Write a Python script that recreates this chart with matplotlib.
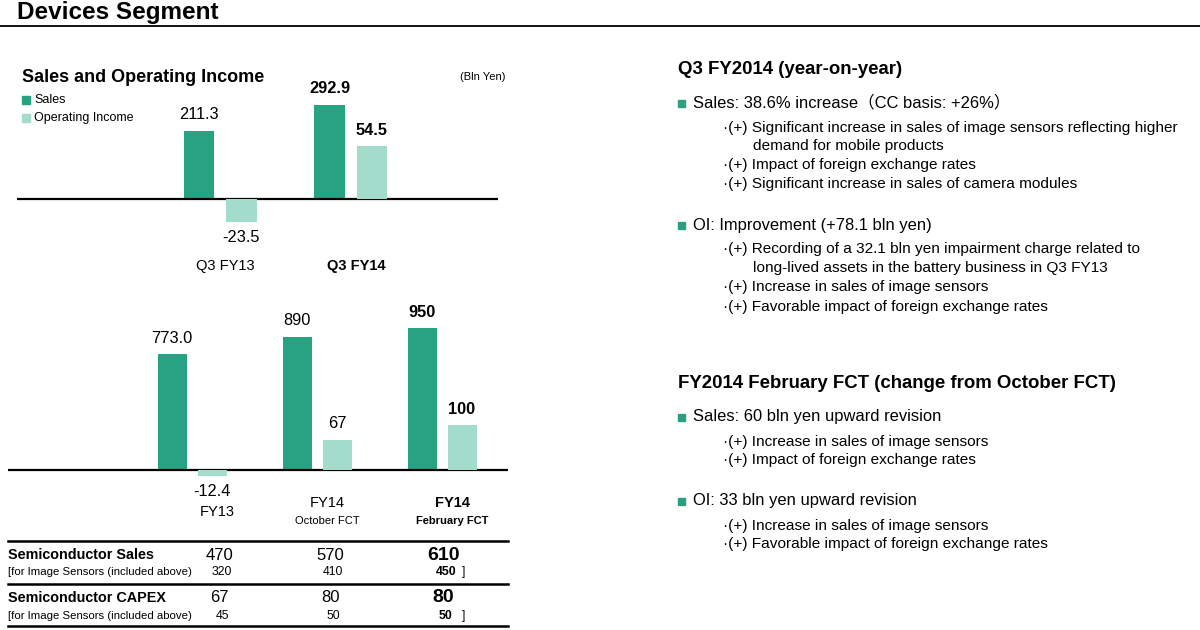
import matplotlib.pyplot as plt
import matplotlib.transforms as mtransforms
import numpy as np

plt.rcParams["font.family"] = ["Liberation Sans", "Noto Sans CJK JP"]

# --- data -------------------------------------------------------------
q_categories = ["Q3 FY13", "Q3 FY14"]
q_sales = [211.3, 292.9]
q_oi = [-23.5, 54.5]

fy_categories = ["FY13", "FY14", "FY14"]
fy_subtitles = ["", "October FCT", "February FCT"]
fy_sales = [773.0, 890, 950]
fy_oi = [-12.4, 67, 100]
fy_sales_labels = ["773.0", "890", "950"]
fy_oi_labels = ["-12.4", "67", "100"]

semi_sales = [470, 570, 610]
semi_sales_sensors = [320, 410, 450]
semi_capex = [67, 80, 80]
semi_capex_sensors = [45, 50, 50]

DARK = "#27a384"
LIGHT = "#a3dccb"
W, H = 1200, 630

fig = plt.figure(figsize=(W / 100, H / 100), dpi=100)


def fx(x):
    return x / W


def fy(y):
    return 1 - y / H


def txt(x, y, s, size=10, weight="normal", ha="left", va="center", **kw):
    fig.text(fx(x), fy(y), s, fontsize=size, fontweight=weight, ha=ha, va=va, **kw)


def bar_axes(box, zero_px, sales_scale, oi_scale, xlim):
    left, top, right, bottom = box
    ax = fig.add_axes([fx(left), fy(bottom), (right - left) / W, (bottom - top) / H])
    ax.set_ylim(-(bottom - zero_px) / sales_scale, (zero_px - top) / sales_scale)
    ax2 = ax.twinx()
    ax2.set_ylim(-(bottom - zero_px) / oi_scale, (zero_px - top) / oi_scale)
    for a in (ax, ax2):
        a.set_xlim(*xlim)
        a.axis("off")
    ax.axhline(0, color="black", lw=1.6, zorder=5)
    return ax, ax2


def value_labels(a, xs, vals, labels, bold, size=11.8):
    for x, v, s, b in zip(xs, vals, labels, bold):
        off = 11.5 if v >= 0 else -11.5
        a.annotate(s, (x, v), xytext=(0, off), textcoords="offset points",
                   ha="center", va="center", fontsize=size,
                   fontweight="bold" if b else "normal")


# --- header -----------------------------------------------------------
txt(17, 12, "Devices Segment", size=17.5, weight="bold")
fig.add_artist(plt.Line2D([0, 1], [fy(26), fy(26)], color="black", lw=1.3))

# --- quarterly chart --------------------------------------------------
txt(22, 77, "Sales and Operating Income", size=13, weight="bold")
txt(506, 77, "(Bln Yen)", size=8, ha="right")
fig.add_artist(plt.Rectangle((fx(22), fy(104)), 8 / W, 8 / H, color=DARK))
fig.add_artist(plt.Rectangle((fx(22), fy(122)), 8 / W, 8 / H, color=LIGHT))
txt(34, 100, "Sales", size=9)
txt(34, 118, "Operating Income", size=9)

off, bw = 0.162, 0.232
ax, ax2 = bar_axes((17, 80, 498, 240), 199, 0.322, 0.97, (-1.56, 2.13))
xq = np.arange(len(q_categories))
ax.bar(xq - off, q_sales, width=bw, color=DARK)
ax2.bar(xq + off, q_oi, width=bw, color=LIGHT)
value_labels(ax, xq - off, q_sales, [f"{v:.1f}" for v in q_sales], [False, True])
value_labels(ax2, xq + off, q_oi, [f"{v:.1f}" for v in q_oi], [False, True])
tr = mtransforms.blended_transform_factory(ax.transData, fig.transFigure)
for i, c in enumerate(q_categories):
    ax.text(i + 0.04, fy(266), c, transform=tr, ha="center", va="center",
            fontsize=10.5, fontweight="bold" if i == 1 else "normal")

# --- fiscal year chart ------------------------------------------------
off2, bw2 = 0.16, 0.232
bx, bx2 = bar_axes((8, 290, 508, 490), 470, 0.1495, 0.45, (-1.472, 2.528))
xf = np.arange(len(fy_categories))
bx.bar(xf - off2, fy_sales, width=bw2, color=DARK)
bx2.bar(xf + off2, fy_oi, width=bw2, color=LIGHT)
bold_fy = [False, False, True]
value_labels(bx, xf - off2, fy_sales, fy_sales_labels, bold_fy)
value_labels(bx2, xf + off2, fy_oi, fy_oi_labels, bold_fy)
tr2 = mtransforms.blended_transform_factory(bx.transData, fig.transFigure)
for i, (c, sub) in enumerate(zip(fy_categories, fy_subtitles)):
    w = "bold" if bold_fy[i] else "normal"
    if sub:
        bx.text(i + 0.08, fy(503), c, transform=tr2, ha="center", va="center",
                fontsize=10.5, fontweight=w)
        bx.text(i + 0.08, fy(521), sub, transform=tr2, ha="center", va="center",
                fontsize=8, fontweight=w)
    else:
        bx.text(i + 0.2, fy(512), c, transform=tr2, ha="center", va="center",
                fontsize=10.5, fontweight=w)

# --- semiconductor table ----------------------------------------------
for y in (541, 584, 626):
    fig.add_artist(plt.Line2D([fx(8), fx(508)], [fy(y), fy(y)], color="black", lw=1.8))

col_x = [219, 330, 443]
rows = [
    (555, "Semiconductor Sales", semi_sales, 572, semi_sales_sensors),
    (598, "Semiconductor CAPEX", semi_capex, 616, semi_capex_sensors),
]
for y_main, name, vals, y_sub, sub_vals in rows:
    txt(8, y_main, name, size=10.4, weight="bold")
    txt(8, y_sub, "[for Image Sensors (included above)", size=8.2)
    for j, (x, v) in enumerate(zip(col_x, vals)):
        big = j == 2
        txt(x, y_main, str(v), size=14 if big else 12, weight="bold" if big else "normal",
            ha="center")
    for j, (x, v) in enumerate(zip(col_x, sub_vals)):
        big = j == 2
        txt(x + 3, y_sub, str(v), size=8.8, weight="bold" if big else "normal", ha="center")
    txt(462, y_sub, "]", size=8.8)

# --- commentary -------------------------------------------------------
def heading(y, s):
    txt(678, y, s, size=13.4, weight="bold")


def bullet(y, s):
    fig.add_artist(plt.Rectangle((fx(678), fy(y + 3.5)), 7 / W, 7 / H, color="#2b9f82"))
    txt(693, y, s, size=11.9)


def item(y, s, cont=False):
    txt(753 if cont else 723, y, s if cont else "·(+) " + s, size=11.1)


heading(70, "Q3 FY2014 (year-on-year)")
bullet(103, "Sales: 38.6% increase（CC basis: +26%）")
item(128, "Significant increase in sales of image sensors reflecting higher")
item(146, "demand for mobile products", cont=True)
item(165, "Impact of foreign exchange rates")
item(184, "Significant increase in sales of camera modules")
bullet(225, "OI: Improvement (+78.1 bln yen)")
item(249, "Recording of a 32.1 bln yen impairment charge related to")
item(268, "long-lived assets in the battery business in Q3 FY13", cont=True)
item(287, "Increase in sales of image sensors")
item(307, "Favorable impact of foreign exchange rates")

heading(384, "FY2014 February FCT (change from October FCT)")
bullet(417, "Sales: 60 bln yen upward revision")
item(442, "Increase in sales of image sensors")
item(460, "Impact of foreign exchange rates")
bullet(501, "OI: 33 bln yen upward revision")
item(526, "Increase in sales of image sensors")
item(544, "Favorable impact of foreign exchange rates")

fig.savefig("out.png", dpi=100)
